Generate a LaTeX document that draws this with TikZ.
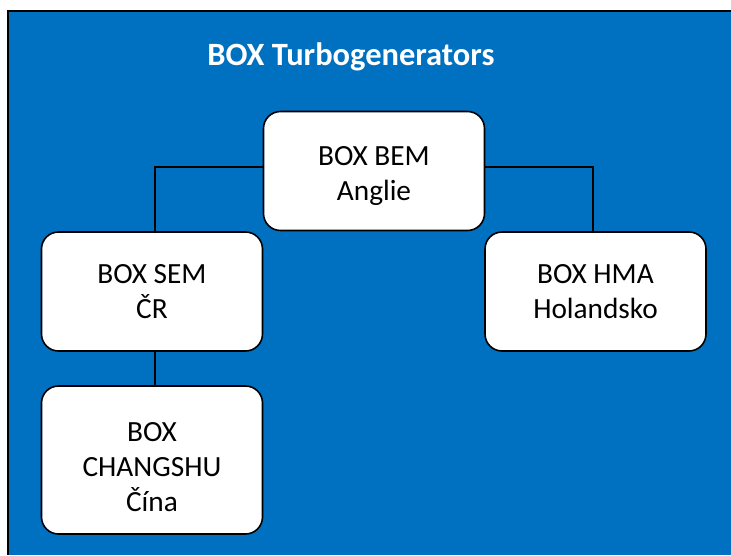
\documentclass[tikz,border=0pt]{standalone}
\usepackage{fontspec}
\setmainfont{Carlito}
\definecolor{boxblue}{RGB}{0,112,192}

\begin{document}
\begin{tikzpicture}[x=1pt, y=-1pt,
		unit/.style={draw=black, line width=1.6pt, fill=white, rounded corners=17pt, align=center, inner sep=0pt, font=\fontsize{29.3}{35}\selectfont, minimum width=221pt, minimum height=119pt},
		link/.style={draw=black, line width=1.6pt}]
		\path[use as bounding box] (0,0) rectangle (731,555);
		\fill[boxblue] (8,11) rectangle (731,555);
		\draw[black, line width=1.7pt] (8,555) -- (8,11) -- (731,11);
		\node[text=white, font=\bfseries\fontsize{32.5}{38}\selectfont] (title) at (351,57) {BOX Turbogenerators};

		\node[unit, text height=64pt] (bem) at (374,171) {BOX BEM\\Anglie};
		\node[unit] (sem) at (152,291.5) {BOX SEM\\ČR};
		\node[unit] (hma) at (595.5,291.5) {BOX HMA\\Holandsko};
		\node[unit, minimum height=148pt, text height=103pt] (chs) at (152,460) {BOX\\CHANGSHU\\Čína};

		\draw[link] ([yshift=4pt]bem.west) -| ([xshift=3pt]sem.north);
		\draw[link] ([yshift=4pt]bem.east) -| ([xshift=-2.5pt]hma.north);
		\draw[link] ([xshift=3pt]sem.south) -- ([xshift=3pt]chs.north);
	\end{tikzpicture}
\end{document}
